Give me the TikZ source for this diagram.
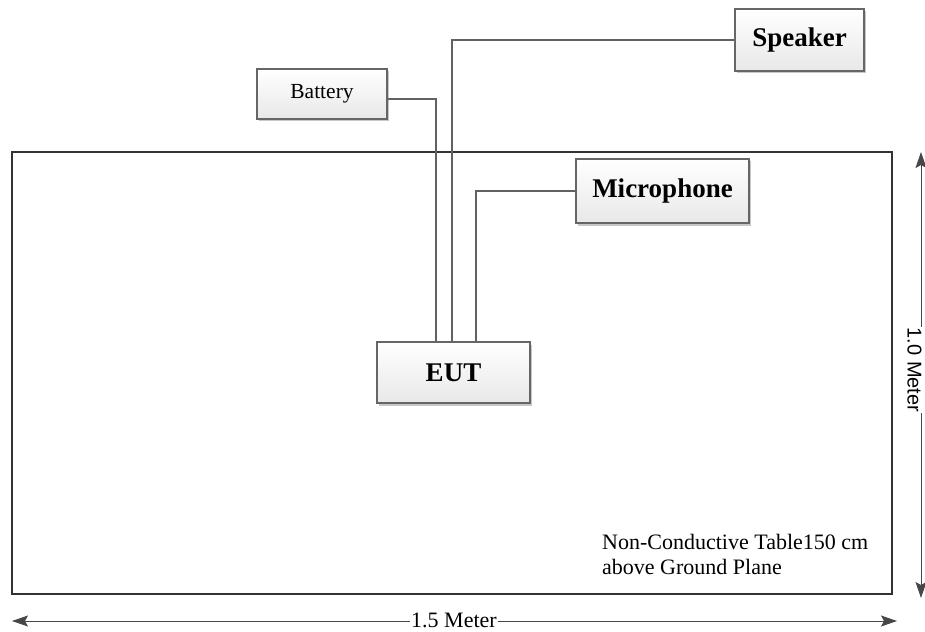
\documentclass[tikz,border=0pt]{standalone}
\usepackage{fontspec}
\setmainfont{Liberation Serif}
\newfontfamily\arialfont{Liberation Sans}
\usetikzlibrary{shadows,arrows.meta}
\tikzset{
  devbox/.style={draw=black!60, line width=1.4pt, shading=axis, top color=white, bottom color=black!9,
    drop shadow={shadow xshift=2pt, shadow yshift=-2.5pt, opacity=0.22, fill=black},
    inner sep=0pt, font=\fontsize{27}{30}\selectfont\bfseries},
  batbox/.style={devbox, font=\fontsize{21.5}{24}\selectfont},
  wire/.style={draw=black!62, line width=1.3pt},
  tablebox/.style={draw=black!80, line width=2.6pt, inner sep=0pt},
  dimline/.style={draw=black!72, line width=1pt, {Stealth[length=16pt,width=11pt,inset=3pt]}-{Stealth[length=16pt,width=11pt,inset=3pt]}},
  dimlabel/.style={fill=white, inner sep=1pt}
}
\begin{document}
\begin{tikzpicture}[x=1pt,y=-1pt]
\useasboundingbox[fill=white] (0,0) rectangle (925,631);
% table
\node[tablebox, minimum width=880pt, minimum height=442pt] (table) at (452,373) {};
% devices
\node[batbox, minimum width=130pt, minimum height=50pt] (bat) at (322,94) {Battery};
\node[devbox, minimum width=129pt, minimum height=62pt] (spk) at (799.5,40) {Speaker};
\node[devbox, minimum width=173pt, minimum height=64pt] (mic) at (662.5,191) {Microphone};
\node[devbox, minimum width=153pt, minimum height=61pt] (eut) at (453.5,372.5) {EUT};
% wires
\draw[wire] ([yshift=-5pt]bat.east) -| ([xshift=-17.5pt]eut.north);
\draw[wire] (spk.west) -| ([xshift=-1.5pt]eut.north);
\draw[wire] (mic.west) -| ([xshift=22.5pt]eut.north);
% note
\node[anchor=north west, inner sep=0pt, align=left, font=\fontsize{22}{25}\selectfont] (note) at (602,534)
  {Non-Conductive Table150 cm\\above Ground Plane};
% dimensions
\coordinate (hl) at (12,621);
\coordinate (hr) at (897,621);
\draw[dimline] (hl) -- (hr);
\node[dimlabel, font=\fontsize{22}{24}\selectfont] (hlab) at (454,620) {1.5 Meter};
\coordinate (vt) at (921,152);
\coordinate (vb) at (921,598);
\draw[dimline] (vt) -- (vb);
\node[dimlabel, rotate=-90, font=\arialfont\fontsize{20}{22}\selectfont] (vlab) at (914.5,370) {1.0 Meter};
\end{tikzpicture}
\end{document}
